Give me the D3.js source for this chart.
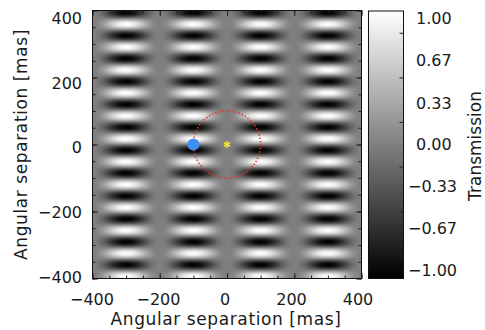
<!DOCTYPE html>
<html>
<head>
<meta charset="utf-8">
<script src="https://cdn.jsdelivr.net/npm/d3@7"></script>
<style>
  html, body { margin: 0; padding: 0; background: #fff; }
  svg { display: block; }
  text { font-family: "DejaVu Sans", sans-serif; fill: #1a1a1a; }
</style>
</head>
<body>
<div id="chart"></div>
<script>
// ---------- data ----------
const axisTicks = [-400, -200, 0, 200, 400];          // mas
const minorTicks = d3.range(-400, 401, 50);           // mas
const xNulls = [-400, -200, 0, 200, 400];             // columns of zero transmission (mas)
const fringePeriodY = [68.4];                         // mas, period of the y fringes
const colorbarLabels = [1.00, 0.67, 0.33, 0.00, -0.33, -0.67, -1.00];
const colorbarTickCells = 6;
const starPos = [0, 0];                               // mas
const companionPos = [-100, 0];                       // mas
const circleRadius = [100];                           // mas

// ---------- layout ----------
const W = 485, H = 330;
const svg = d3.select("#chart").append("svg").attr("width", W).attr("height", H);

const x = d3.scaleLinear().domain([-400, 400]).range([92.5, 361.5]);
const y = d3.scaleLinear().domain([-400, 400]).range([278.5, 10.5]);
const xLab = d3.scaleLinear().domain([-400, 400]).range([92, 358]);
const yLab = d3.scaleLinear().domain([-400, 400]).range([277, 18]);
const gray = d3.scaleLinear().domain([-1, 1]).range([0, 255]).clamp(true);

// transmission map (chopped Bracewell pattern)
const xPeriod = xNulls[1] - xNulls[0];
function transmission(mx, my) {
  const s = Math.sin(Math.PI * mx / xPeriod);
  return s * s * Math.sin(2 * Math.PI * my / fringePeriodY[0]);
}

const pw = Math.round(x.range()[1] - x.range()[0]);
const ph = Math.round(y.range()[0] - y.range()[1]);
const canvas = document.createElement("canvas");
canvas.width = pw; canvas.height = ph;
const ctx = canvas.getContext("2d");
const img = ctx.createImageData(pw, ph);
for (let j = 0; j < ph; j++) {
  const my = y.invert(y.range()[1] + j + 0.5);
  for (let i = 0; i < pw; i++) {
    const mx = x.invert(x.range()[0] + i + 0.5);
    const g = gray(transmission(mx, my));
    const k = (j * pw + i) * 4;
    img.data[k] = g; img.data[k + 1] = g; img.data[k + 2] = g; img.data[k + 3] = 255;
  }
}
ctx.putImageData(img, 0, 0);

svg.append("image")
  .attr("x", x.range()[0]).attr("y", y.range()[1])
  .attr("width", pw).attr("height", ph)
  .attr("preserveAspectRatio", "none")
  .attr("href", canvas.toDataURL());

// ---------- axes ticks (inward, all four sides) ----------
function tickAxes(axisFn, scale, tx, ty) {
  const gMin = svg.append("g").attr("transform", `translate(${tx},${ty})`)
    .call(axisFn(scale).tickValues(minorTicks).tickSize(-3).tickFormat(""));
  const gMaj = svg.append("g").attr("transform", `translate(${tx},${ty})`)
    .call(axisFn(scale).tickValues(axisTicks).tickSize(-5.5).tickFormat(""));
  [gMin, gMaj].forEach(g => {
    g.select(".domain").remove();
    g.selectAll("line").attr("stroke", "#222").attr("stroke-width", 1);
  });
}
tickAxes(d3.axisBottom, x, 0, y.range()[0]);
tickAxes(d3.axisTop, x, 0, y.range()[1]);
tickAxes(d3.axisLeft, y, x.range()[0], 0);
tickAxes(d3.axisRight, y, x.range()[1], 0);

svg.append("rect")
  .attr("x", x.range()[0]).attr("y", y.range()[1])
  .attr("width", x.range()[1] - x.range()[0]).attr("height", y.range()[0] - y.range()[1])
  .attr("fill", "none").attr("stroke", "#111").attr("stroke-width", 1);

const fmt = v => String(v).replace("-", "\u2212");

// tick labels
svg.append("g").selectAll("text").data(axisTicks).join("text")
  .attr("x", d => xLab(d)).attr("y", 305)
  .attr("text-anchor", "middle").attr("font-size", 16)
  .text(fmt);
svg.append("g").selectAll("text").data(axisTicks).join("text")
  .attr("x", 82).attr("y", d => yLab(d)).attr("dy", "0.36em")
  .attr("text-anchor", "end").attr("font-size", 16)
  .text(fmt);

// axis titles
svg.append("text")
  .attr("x", 226).attr("y", 325).attr("text-anchor", "middle").attr("font-size", 17)
  .attr("letter-spacing", 0.6)
  .text("Angular separation [mas]");
svg.append("text")
  .attr("transform", `translate(27,${(y.range()[0] + y.range()[1]) / 2}) rotate(-90)`)
  .attr("text-anchor", "middle").attr("font-size", 17)
  .attr("letter-spacing", 0.6)
  .text("Angular separation [mas]");

// ---------- markers ----------
svg.append("circle")
  .attr("cx", x(starPos[0])).attr("cy", y(starPos[1]))
  .attr("r", x(circleRadius[0]) - x(0))
  .attr("fill", "none").attr("stroke", "#e4342c")
  .attr("stroke-width", 1.6).attr("stroke-dasharray", "1.4 2");

svg.append("circle")
  .attr("cx", x(companionPos[0])).attr("cy", y(companionPos[1]))
  .attr("r", 6).attr("fill", "#3d8ff0");

svg.append("path")
  .attr("transform", `translate(${x(starPos[0])},${y(starPos[1])})`)
  .attr("d", d3.symbol(d3.symbolAsterisk, 36)())
  .attr("fill", "none").attr("stroke", "#f2e030").attr("stroke-width", 1.6);
svg.append("path")
  .attr("transform", `translate(${x(starPos[0])},${y(starPos[1])})`)
  .attr("d", d3.symbol(d3.symbolSquare, 6)())
  .attr("fill", "#f2e030");

// ---------- colorbar ----------
const cb = { x0: 368.5, x1: 403.5, y0: 11, y1: 278.5 };
const defs = svg.append("defs");
const grad = defs.append("linearGradient").attr("id", "cbgrad")
  .attr("x1", 0).attr("y1", 1).attr("x2", 0).attr("y2", 0);
grad.append("stop").attr("offset", 0).attr("stop-color", "rgb(0,0,0)");
grad.append("stop").attr("offset", 1).attr("stop-color", "rgb(255,255,255)");
svg.append("rect")
  .attr("x", cb.x0).attr("y", cb.y0).attr("width", cb.x1 - cb.x0).attr("height", cb.y1 - cb.y0)
  .attr("fill", "url(#cbgrad)").attr("stroke", "#111").attr("stroke-width", 1);

const cbCell = d3.scaleLinear().domain([0, colorbarTickCells]).range([cb.y0, cb.y1]);
svg.append("g").selectAll("line").data(d3.range(colorbarTickCells)).join("line")
  .attr("x1", cb.x1 - 4).attr("x2", cb.x1)
  .attr("y1", d => cbCell(d + 0.5)).attr("y2", d => cbCell(d + 0.5))
  .attr("stroke", "#222");

const cbLab = d3.scaleLinear().domain([-1, 1]).range([270, 18.5]);
svg.append("g").selectAll("text").data(colorbarLabels).join("text")
  .attr("x", d => d < 0 ? 408 : 416).attr("y", d => cbLab(d)).attr("dy", "0.36em")
  .attr("font-size", 16)
  .text(d => fmt(d.toFixed(2)));

svg.append("text")
  .attr("transform", `translate(481,146) rotate(-90)`)
  .attr("text-anchor", "middle").attr("font-size", 17)
  .text("Transmission");
</script>
</body>
</html>
